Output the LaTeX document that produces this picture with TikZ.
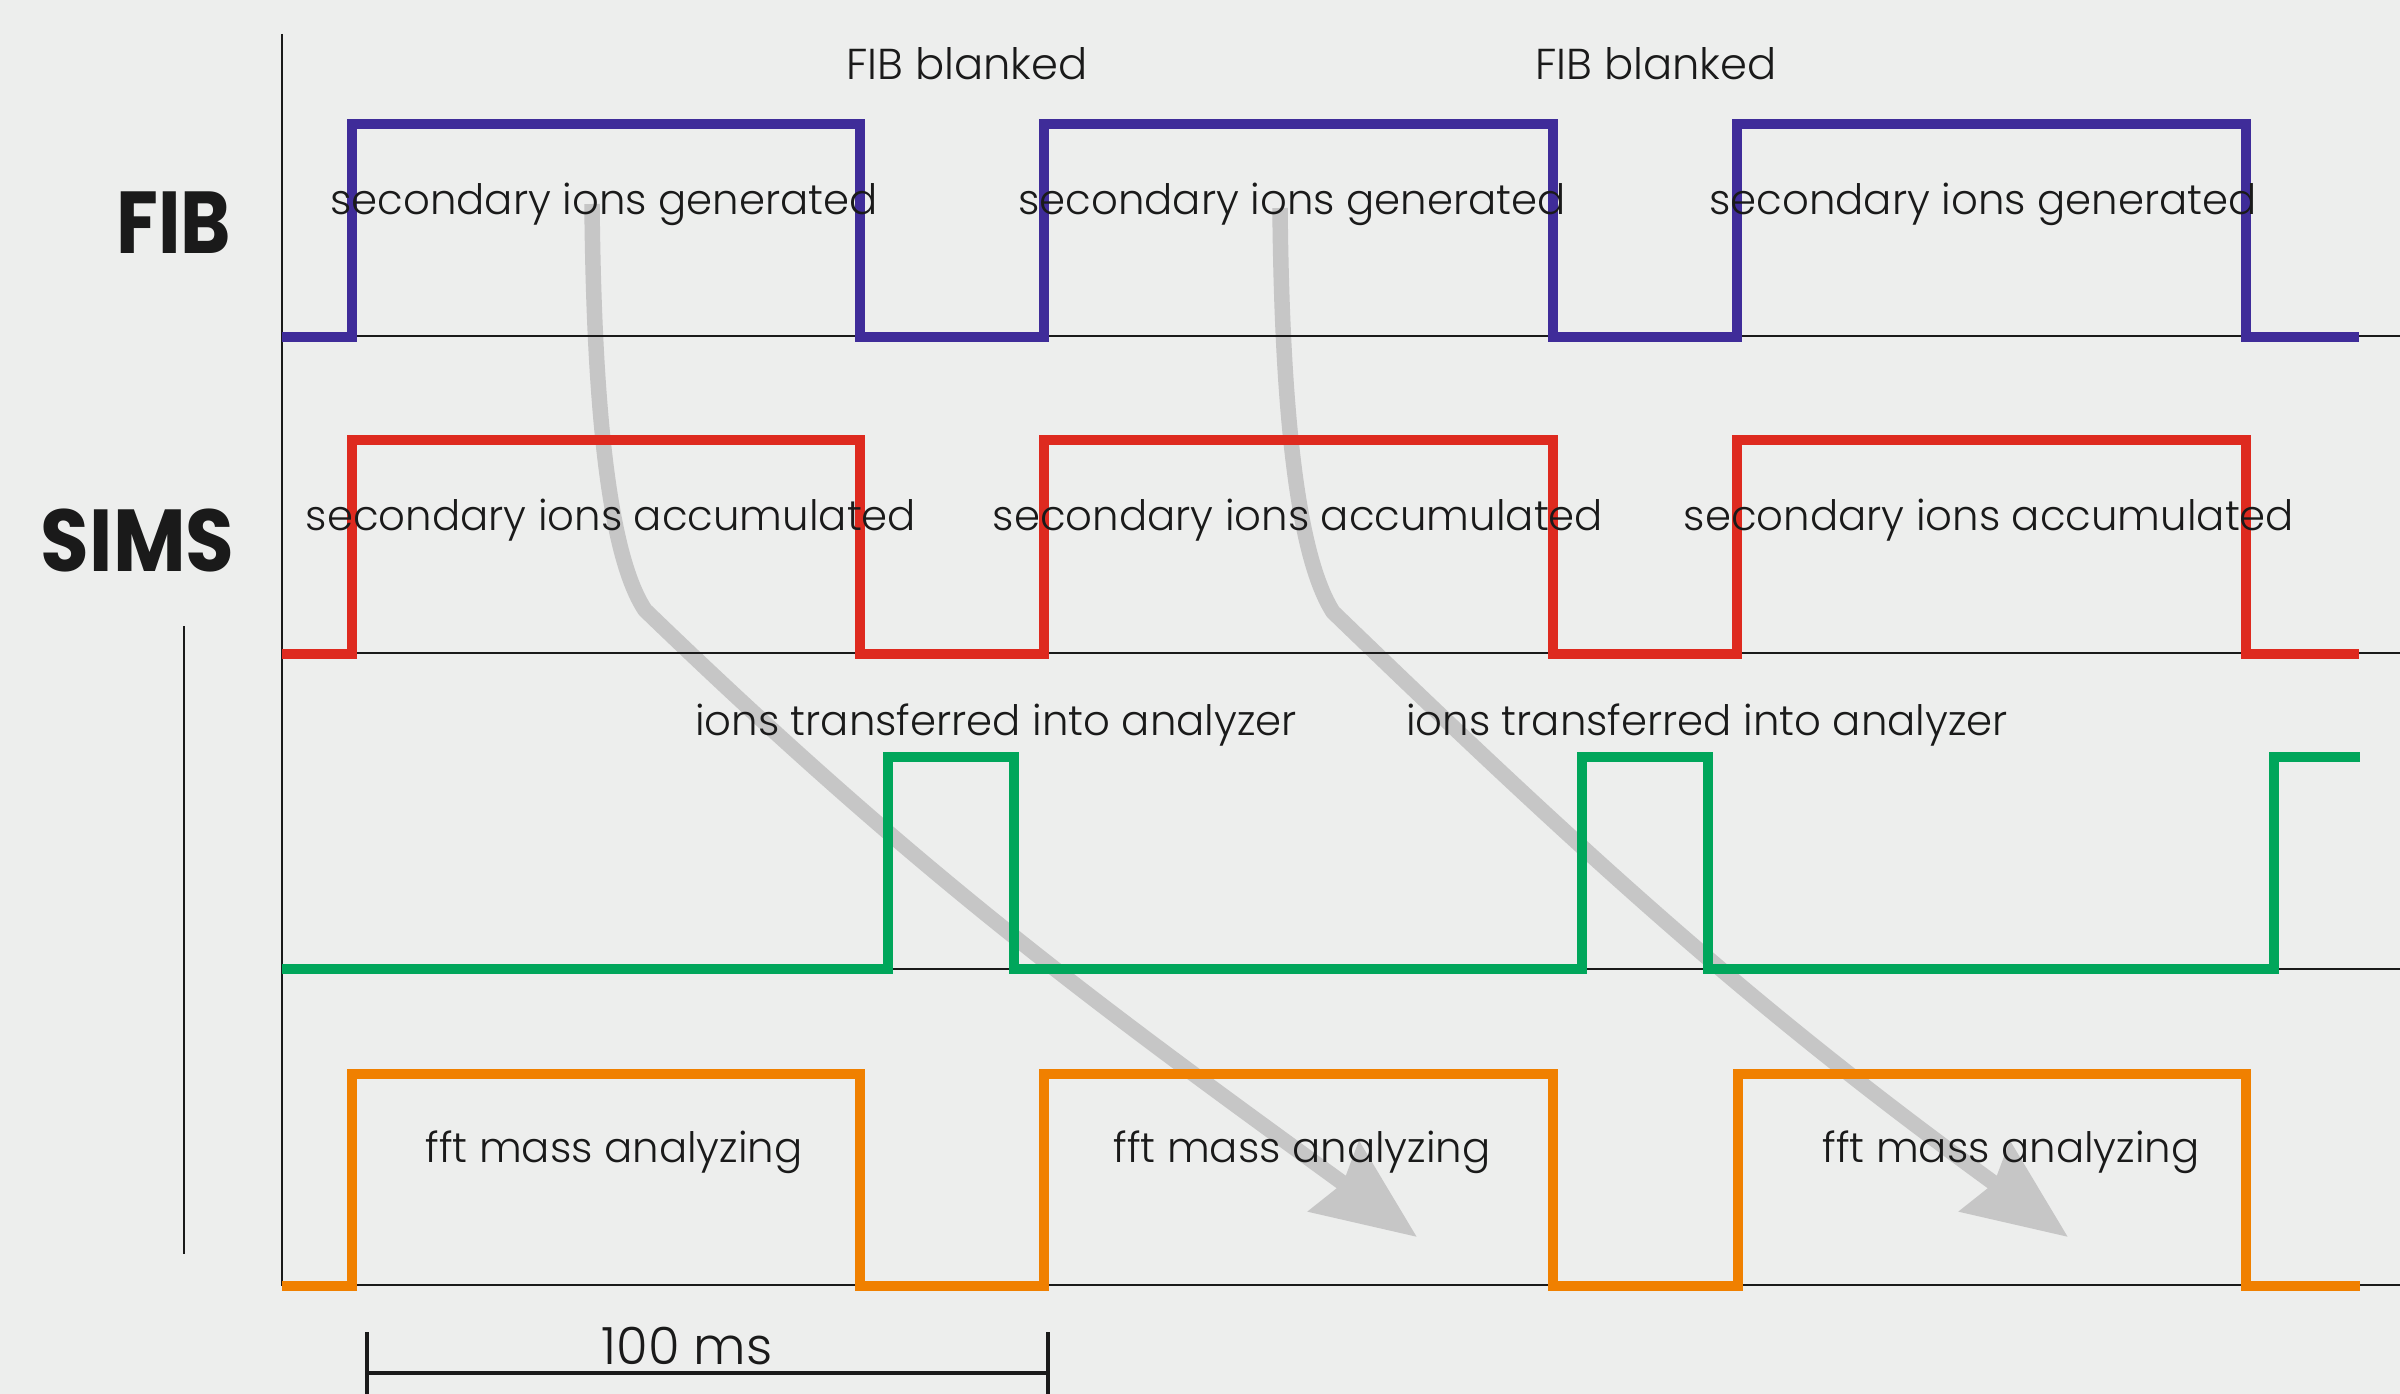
\documentclass[tikz,border=0pt]{standalone}
\usepackage{fontspec}
\setmainfont{Poppins}
\newfontfamily\thinfont{Poppins Light}
\usepackage{graphicx}
\usepackage{tikz}
\usepackage{xcolor}
\definecolor{PaperGray}{HTML}{EDEEED}
\definecolor{InkBlack}{HTML}{1A1A1A}
\definecolor{FibBlue}{HTML}{3F2C99}
\definecolor{SimsRed}{HTML}{DE2A1F}
\definecolor{TransferGreen}{HTML}{00A65B}
\definecolor{FftOrange}{HTML}{F08000}
\definecolor{FlowGray}{HTML}{C6C6C6}
\usetikzlibrary{arrows.meta, positioning}

\begin{document}
\begin{tikzpicture}[x=0.01cm, y=-0.01cm,
    lbl/.style={font=\thinfont\fontsize{11.9}{14}\selectfont, text=InkBlack, inner sep=0pt, anchor=base},
    big/.style={font=\bfseries\fontsize{25}{30}\selectfont, text=InkBlack, inner sep=0pt, anchor=base east},
    trace/.style={line width=3.1pt, line join=miter},
    rule/.style={line width=0.7pt, draw=InkBlack},
    flow/.style={line width=4.4pt, draw=FlowGray, line join=round, -{Stealth[length=29pt, width=24pt, inset=3pt]}}]

    % Paper
    \fill[PaperGray] (0,0) rectangle (2400,1394);
    \useasboundingbox (0,0) rectangle (2400,1394);

    % Where the ions go
    \coordinate (src1) at (592,204);
    \coordinate (bend1) at (645,610);
    \coordinate (dst1) at (1417,1237);
    \coordinate (src2) at (1280,208);
    \coordinate (bend2) at (1333,612);
    \coordinate (dst2) at (2068,1237);
    \draw[flow] (src1) .. controls (594,430) and (612,560) .. (bend1) to[out=-44, in=144] (dst1);
    \draw[flow] (src2) .. controls (1282,430) and (1300,560) .. (bend2) to[out=-44, in=144] (dst2);

    % Axes and baselines
    \draw[rule] (282,34) -- (282,1286);
    \draw[rule] (184,626) -- (184,1254);
    \foreach \y in {336, 653, 969, 1285}
        \draw[rule] (282,\y) -- (2400,\y);

    % Signals
    \draw[trace, FibBlue] (282,337) -- (352,337) -- (352,124) -- (860,124) -- (860,337) -- (1044,337) -- (1044,124) -- (1553,124) -- (1553,337) -- (1737,337) -- (1737,124) -- (2246,124) -- (2246,337) -- (2359,337);
    \draw[trace, SimsRed] (282,654) -- (352,654) -- (352,440) -- (860,440) -- (860,654) -- (1044,654) -- (1044,440) -- (1553,440) -- (1553,654) -- (1737,654) -- (1737,440) -- (2246,440) -- (2246,654) -- (2359,654);
    \draw[trace, TransferGreen] (282,969) -- (888,969) -- (888,757) -- (1014,757) -- (1014,969) -- (1582,969) -- (1582,757) -- (1708,757) -- (1708,969) -- (2274,969) -- (2274,757) -- (2360,757);
    \draw[trace, FftOrange] (282,1286) -- (352,1286) -- (352,1074) -- (860,1074) -- (860,1286) -- (1044,1286) -- (1044,1074) -- (1553,1074) -- (1553,1286) -- (1738,1286) -- (1738,1074) -- (2246,1074) -- (2246,1286) -- (2360,1286);

    % Channel names
    \node (fib) [big] at (232,254) {\scalebox{0.87}[1]{FIB}};
    \node (sims) [big] at (235,571) {\scalebox{0.9}[1]{SIMS}};

    % Phase labels
    \foreach \i/\x in {1/967, 2/1656}
        \node (blank\i) [lbl, font=\thinfont\fontsize{12.3}{14}\selectfont] at (\x,80) {FIB blanked};
    \foreach \i/\x in {1/604, 2/1292, 3/1983}
        \node (gen\i) [lbl] at (\x,215) {secondary ions generated};
    \foreach \i/\x in {1/611, 2/1298, 3/1989}
        \node (acc\i) [lbl] at (\x,530) {secondary ions accumulated};
    \foreach \i/\x in {1/996, 2/1707}
        \node (move\i) [lbl] at (\x,735) {ions transferred into analyzer};
    \foreach \i/\x in {1/614, 2/1302, 3/2011}
        \node (fft\i) [lbl] at (\x,1162) {fft mass analyzing};

    % Time scale
    \coordinate (t0) at (367,1373);
    \coordinate (t1) at (1048,1373);
    \draw[line width=0.9pt, InkBlack] (t0) -- (t1);
    \draw[line width=0.9pt, InkBlack] (367,1332) -- (367,1394) (1048,1332) -- (1048,1394);
    \node (span) [lbl, font=\thinfont\fontsize{14.6}{17}\selectfont] at (687,1364) {100 ms};
\end{tikzpicture}
\end{document}
